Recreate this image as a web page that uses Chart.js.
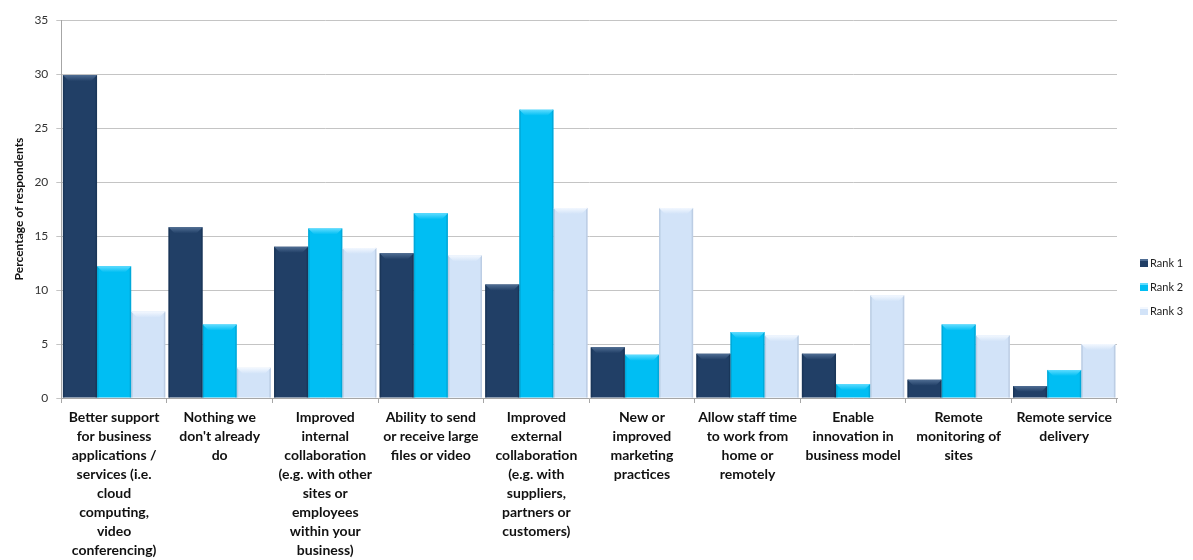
<!DOCTYPE html>
<html lang="en">
<head>
    <meta charset="UTF-8">
    <title>Benefits</title>
    <script src="https://cdn.jsdelivr.net/npm/chart.js@4.4.1/dist/chart.umd.min.js"></script>
</head>
<style>
    html, body { margin: 0; padding: 0; background: #ffffff; }
    #wrap { width: 1193px; height: 560px; position: relative; }
</style>
<body>
    <div id="wrap">
        <canvas id="benefitChart"></canvas>
    </div>

    <script>
        // categories (each one split into its label lines)
        const categories = [
            ['Better support', 'for business', 'applications /', 'services (i.e.', 'cloud', 'computing,', 'video', 'conferencing)'],
            ['Nothing we', "don't already", 'do'],
            ['Improved', 'internal', 'collaboration', '(e.g. with other', 'sites or', 'employees', 'within your', 'business)'],
            ['Ability to send', 'or receive large', 'files or video'],
            ['Improved', 'external', 'collaboration', '(e.g. with', 'suppliers,', 'partners or', 'customers)'],
            ['New or', 'improved', 'marketing', 'practices'],
            ['Allow staff time', 'to work from', 'home or', 'remotely'],
            ['Enable', 'innovation in', 'business model'],
            ['Remote', 'monitoring of', 'sites'],
            ['Remote service', 'delivery']
        ];

        const rank1 = [29.9, 15.8, 14.0, 13.4, 10.5, 4.7, 4.1, 4.1, 1.7, 1.1];
        const rank2 = [12.2, 6.8, 15.7, 17.1, 26.7, 4.0, 6.1, 1.3, 6.8, 2.6];
        const rank3 = [8.0, 2.8, 13.9, 13.2, 17.6, 17.6, 5.8, 9.5, 5.8, 5.0];

        const yTicks = [0, 5, 10, 15, 20, 25, 30, 35];

        // bar colours: fill, top bevel, edge
        const fills = ['#213f66', '#00bef3', '#d2e3f8'];
        const bevels = ['#4f6d93', '#5fdcff', '#f3f8ff'];
        const edges = ['#16304f', '#0098c4', '#a9bcd4'];

        const FONT = 'Lato, "Liberation Sans", sans-serif';

        // little excel-ish bevel on top of every bar
        const bevelPlugin = {
            id: 'bevel',
            afterDatasetsDraw(chart) {
                const c = chart.ctx;
                chart.data.datasets.forEach((ds, i) => {
                    const meta = chart.getDatasetMeta(i);
                    meta.data.forEach((bar) => {
                        const p = bar.getProps(['x', 'y', 'base', 'width'], true);
                        const l = p.x - p.width / 2;
                        const r = p.x + p.width / 2;
                        const h = Math.min(6, (p.base - p.y) / 2);
                        c.save();
                        // side edges
                        c.fillStyle = edges[i];
                        c.globalAlpha = 0.55;
                        c.fillRect(l, p.y, 1.5, p.base - p.y);
                        c.fillRect(r - 1.5, p.y, 1.5, p.base - p.y);
                        c.globalAlpha = 1;
                        // top band
                        const g = c.createLinearGradient(0, p.y, 0, p.y + h);
                        g.addColorStop(0, bevels[i]);
                        g.addColorStop(1, fills[i]);
                        c.fillStyle = g;
                        c.beginPath();
                        c.moveTo(l, p.y);
                        c.lineTo(r, p.y);
                        c.lineTo(r - h, p.y + h);
                        c.lineTo(l + h, p.y + h);
                        c.closePath();
                        c.fill();
                        c.restore();
                    });
                });
            }
        };

        // small legend on the right, stacked vertically
        const sideLegend = {
            id: 'sideLegend',
            afterDraw(chart) {
                const c = chart.ctx;
                const x = chart.chartArea.right + 23;
                const y0 = chart.height / 2 - 17;
                c.save();
                c.font = '11px ' + FONT;
                c.textBaseline = 'middle';
                chart.data.datasets.forEach((ds, i) => {
                    const y = y0 + i * 24;
                    c.fillStyle = fills[i];
                    c.fillRect(x, y - 4, 8, 8);
                    c.fillStyle = bevels[i];
                    c.fillRect(x, y - 4, 8, 2);
                    c.fillStyle = '#222222';
                    c.fillText(ds.label, x + 10, y);
                });
                c.restore();
            }
        };

        const ctx = document.getElementById('benefitChart').getContext('2d');
        const benefitChart = new Chart(ctx, {
            type: 'bar',
            data: {
                labels: categories,
                datasets: [
                    { label: 'Rank 1', data: rank1, backgroundColor: fills[0] },
                    { label: 'Rank 2', data: rank2, backgroundColor: fills[1] },
                    { label: 'Rank 3', data: rank3, backgroundColor: fills[2] }
                ]
            },
            options: {
                responsive: true,
                maintainAspectRatio: false,
                animation: false,
                datasets: {
                    bar: { categoryPercentage: 0.97, barPercentage: 1.0 }
                },
                layout: { padding: { top: 20, right: 76, left: 12, bottom: -5 } },
                plugins: {
                    tooltip: { enabled: false },
                    legend: { display: false }
                },
                scales: {
                    x: {
                        grid: {
                            drawOnChartArea: false,
                            drawTicks: true,
                            tickLength: 5,
                            color: '#a6a6a6'
                        },
                        border: { color: '#a6a6a6' },
                        ticks: {
                            autoSkip: false,
                            maxRotation: 0,
                            minRotation: 0,
                            padding: 5,
                            color: '#111111',
                            font: { family: FONT, size: 14, weight: 'bold', lineHeight: '19px' }
                        }
                    },
                    y: {
                        min: 0,
                        max: 35,
                        afterBuildTicks: (axis) => { axis.ticks = yTicks.map(v => ({ value: v })); },
                        grid: { color: '#c4c4c4', tickLength: 5 },
                        border: { color: '#a6a6a6' },
                        ticks: {
                            padding: 8,
                            color: '#333333',
                            font: { family: FONT, size: 12 }
                        },
                        title: {
                            display: true,
                            text: 'Percentage of respondents',
                            color: '#111111',
                            padding: { top: 0, bottom: 0 },
                            font: { family: FONT, size: 12, weight: 'bold' }
                        }
                    }
                }
            },
            plugins: [bevelPlugin, sideLegend]
        });
    </script>
</body>
</html>
